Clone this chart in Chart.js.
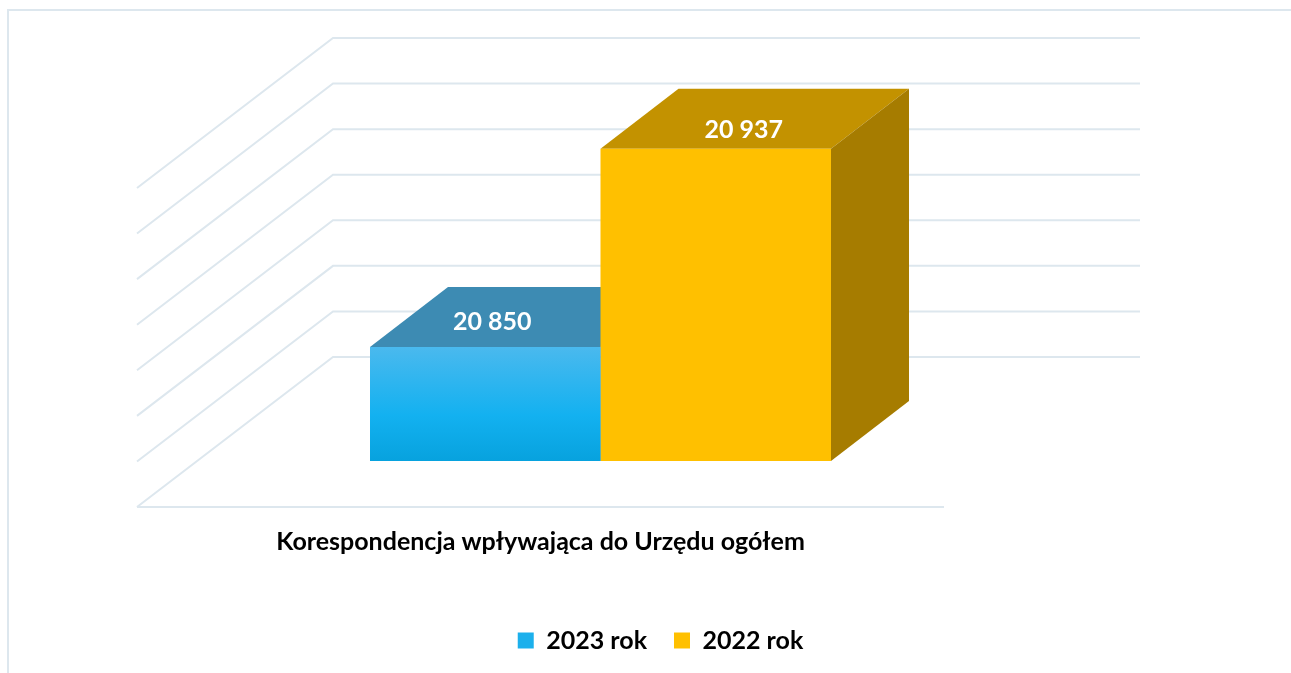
<!DOCTYPE html>
<html><head><meta charset="utf-8">
<script src="https://cdn.jsdelivr.net/npm/chart.js@4.4.1/dist/chart.umd.min.js"></script>
<style>html,body{margin:0;padding:0;background:#fff;overflow:hidden}</style>
</head><body>
<canvas id="c" width="1291" height="673"></canvas>
<script>
// ---- data ----
const categories = ['Korespondencja wpływająca do Urzędu ogółem'];
const seriesNames = ['2023 rok', '2022 rok'];
const values2023 = [20850];
const values2022 = [20937];
const yTickMin = 20800;
const yTickMax = 20940;
const yTickStep = 20;

// ---- styling ----
const FONT = 'Lato, "Open Sans", sans-serif';
const gridColor = '#dde7ee';
const WALL = {dx: 136, dy: -104};  // back wall relative to bar front plane
const FRONT = {dx: -60, dy: 46};   // floor front edge relative to bar front plane
const DEPTH = {dx: 78, dy: -60};   // bar depth
const fmt = v => String(v).replace(/\B(?=(\d{3})+(?!\d))/g, ' ');

function blueGradient(c) {
  const ch = c.chart, a = ch.chartArea;
  if (!a || !ch.scales.y) return '#16b1ee';
  const top = ch.scales.y.getPixelForValue(c.raw);
  const g = ch.ctx.createLinearGradient(0, top, 0, a.bottom);
  g.addColorStop(0, '#4ab9ee');
  g.addColorStop(0.6, '#13b1f0');
  g.addColorStop(1, '#07a2de');
  return g;
}

function poly(ctx, pts) {
  ctx.beginPath();
  ctx.moveTo(pts[0][0], pts[0][1]);
  for (let i = 1; i < pts.length; i++) ctx.lineTo(pts[i][0], pts[i][1]);
  ctx.closePath();
  ctx.fill();
}

const chart3d = {
  id: 'chart3d',
  beforeDraw(chart) {
    const ctx = chart.ctx;
    ctx.save();
    ctx.strokeStyle = gridColor;
    ctx.lineWidth = 2;
    ctx.strokeRect(8, 10, chart.width + 20, chart.height + 20);
    ctx.restore();
  },
  beforeDatasetsDraw(chart) {
    const {ctx, chartArea: a, scales: {y}} = chart;
    ctx.save();
    ctx.strokeStyle = gridColor;
    ctx.lineWidth = 2;
    y.ticks.forEach(t => {
      const py = y.getPixelForValue(t.value);
      ctx.beginPath();
      ctx.moveTo(a.left + FRONT.dx, py + FRONT.dy);
      ctx.lineTo(a.left + WALL.dx, py + WALL.dy);
      ctx.lineTo(a.right + WALL.dx, py + WALL.dy);
      ctx.stroke();
    });
    ctx.beginPath();
    ctx.moveTo(a.left + FRONT.dx, a.bottom + FRONT.dy);
    ctx.lineTo(a.right + FRONT.dx, a.bottom + FRONT.dy);
    ctx.stroke();

    chart.data.datasets.forEach((ds, i) => {
      const meta = chart.getDatasetMeta(i);
      if (!chart.isDatasetVisible(i)) return;
      meta.data.forEach(bar => {
        const p = bar.getProps(['x', 'y', 'base', 'width'], true);
        const base = Math.min(p.base, a.bottom);
        const l = p.x - p.width / 2, r = p.x + p.width / 2;
        ctx.fillStyle = ds.topColor;
        poly(ctx, [[l, p.y], [r, p.y], [r + DEPTH.dx, p.y + DEPTH.dy], [l + DEPTH.dx, p.y + DEPTH.dy]]);
        ctx.fillStyle = ds.sideColor;
        poly(ctx, [[r, p.y], [r + DEPTH.dx, p.y + DEPTH.dy], [r + DEPTH.dx, base + DEPTH.dy], [r, base]]);
      });
    });
    ctx.restore();
  },
  afterDatasetsDraw(chart) {
    const ctx = chart.ctx;
    ctx.save();
    ctx.fillStyle = '#ffffff';
    ctx.font = 'bold 25px ' + FONT;
    ctx.textAlign = 'center';
    ctx.textBaseline = 'middle';
    chart.data.datasets.forEach((ds, i) => {
      if (!chart.isDatasetVisible(i)) return;
      chart.getDatasetMeta(i).data.forEach((bar, j) => {
        const p = bar.getProps(['x', 'y'], true);
        ctx.fillText(fmt(ds.data[j]), p.x + ds.labelDX, p.y + ds.labelDY);
      });
    });
    ctx.restore();
  }
};

const legendColors = ['#1cb0ec', '#ffc000'];

new Chart(document.getElementById('c'), {
  type: 'bar',
  data: {
    labels: categories,
    datasets: [
      {label: seriesNames[0], data: values2023, backgroundColor: blueGradient,
       topColor: '#3d8bb3', sideColor: '#2f7aa3', labelDX: 7, labelDY: -25},
      {label: seriesNames[1], data: values2022, backgroundColor: '#ffc000',
       topColor: '#c39200', sideColor: '#a67c00', labelDX: 28, labelDY: -19}
    ]
  },
  options: {
    responsive: false,
    animation: false,
    devicePixelRatio: 1,
    layout: {padding: {left: 30, right: 0, top: 142, bottom: 10}},
    datasets: {bar: {categoryPercentage: 461 / 807, barPercentage: 1, borderWidth: 0}},
    scales: {
      x: {
        grid: {display: false}, border: {display: false},
        ticks: {color: '#000', font: {family: FONT, weight: 'bold', size: 25},
                padding: 58, labelOffset: -60, maxRotation: 0, autoSkip: false},
        afterFit(s) { s.height = 140; }
      },
      y: {
        position: 'left', min: yTickMin, max: yTickMax,
        grid: {display: false}, border: {display: false},
        ticks: {display: false, stepSize: yTickStep},
        afterFit(s) { s.width = 167; }
      },
      yRight: {
        type: 'linear', position: 'right', min: yTickMin, max: yTickMax,
        grid: {display: false}, border: {display: false},
        ticks: {display: false},
        afterFit(s) { s.width = 287; }
      }
    },
    plugins: {
      tooltip: {enabled: false},
      legend: {
        position: 'bottom',
        labels: {
          color: '#000', boxWidth: 16, boxHeight: 16, padding: 27,
          font: {family: FONT, weight: 'bold', size: 25},
          generateLabels(chart) {
            const items = Chart.defaults.plugins.legend.labels.generateLabels(chart);
            items.forEach((it, i) => { it.fillStyle = legendColors[i]; it.strokeStyle = legendColors[i]; it.lineWidth = 0; });
            return items;
          }
        }
      }
    }
  },
  plugins: [chart3d]
});
</script>
</body></html>
